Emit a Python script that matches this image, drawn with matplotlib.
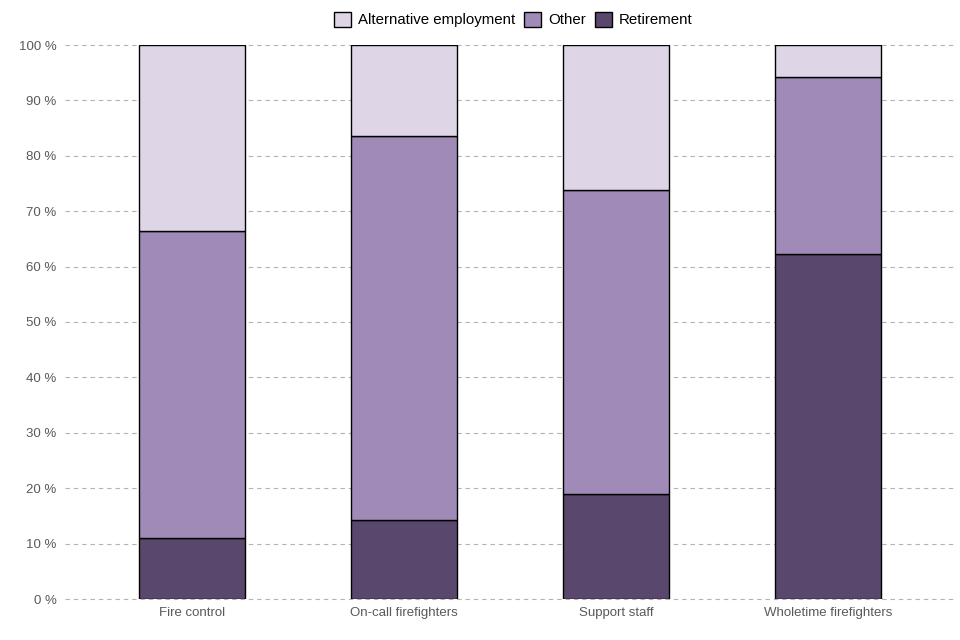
import matplotlib
matplotlib.use("Agg")
import matplotlib.pyplot as plt
import numpy as np

# Datos (porcentajes)
categorias = ["Fire control", "On-call firefighters", "Support staff", "Wholetime firefighters"]
retirement = [11.0, 14.3, 19.0, 62.3]
other = [55.4, 69.3, 54.8, 31.9]
alternative = [33.6, 16.4, 26.2, 5.8]

colores = {"Retirement": "#5a476e", "Other": "#a08ab8", "Alternative employment": "#ded6e6"}
color_texto = "#595959"

plt.rcParams["font.family"] = ["Liberation Sans", "DejaVu Sans"]

fig = plt.figure(figsize=(9.6, 6.4), dpi=100)
ax = fig.add_axes([65/960, 1-599/640, 890/960, (599-45)/640])

x = np.arange(len(categorias))
ret = np.array(retirement)
oth = np.array(other)
alt = np.array(alternative)

ax.bar(x, ret, width=0.5, color=colores["Retirement"], edgecolor="black", linewidth=1, label="Retirement", zorder=3)
ax.bar(x, oth, width=0.5, bottom=ret, color=colores["Other"], edgecolor="black", linewidth=1, label="Other", zorder=3)
ax.bar(x, alt, width=0.5, bottom=ret+oth, color=colores["Alternative employment"], edgecolor="black", linewidth=1, label="Alternative employment", zorder=3)

ax.set_xlim(-0.6, 3.6)
ax.set_ylim(0, 100)
ax.set_yticks(np.arange(0, 101, 10))
ax.set_yticklabels([f"{v} %" for v in range(0, 101, 10)])
ax.set_xticks(x)
ax.set_xticklabels(categorias)
ax.tick_params(axis="both", length=0, labelsize=9.5, colors=color_texto, pad=6)
ax.yaxis.grid(True, color="#b3b3b3", linestyle=(0, (4, 3.5)), linewidth=0.8, zorder=0)
for g in ax.get_ygridlines():
    g.set_clip_on(False)
for s in ax.spines.values():
    s.set_visible(False)

handles, labels = ax.get_legend_handles_labels()
leg = fig.legend(handles[::-1], labels[::-1], loc="center", bbox_to_anchor=(0.535, 0.969), ncol=3,
                 frameon=False, fontsize=10.8, handlelength=1.1, handleheight=1.1,
                 handletextpad=0.5, columnspacing=0.6)
for t in leg.get_texts():
    t.set_color("black")

fig.savefig("out.png", dpi=100)
